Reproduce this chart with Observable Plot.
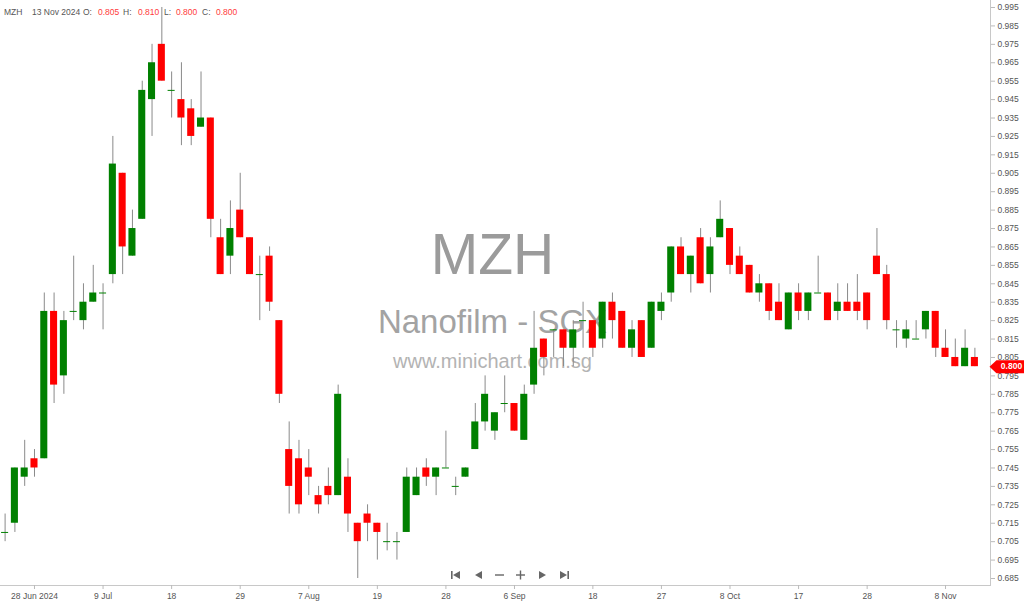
<!DOCTYPE html>
<html>
<head>
<meta charset="utf-8">
<script src="https://cdn.jsdelivr.net/npm/d3@7"></script>
<script src="https://cdn.jsdelivr.net/npm/@observablehq/plot@0.6"></script>
<style>
  html, body { margin: 0; padding: 0; background: #fff; }
  #wrap { position: relative; width: 1024px; height: 605px; font-family: "Liberation Sans", Arial, sans-serif; }
  #header { position: absolute; left: 0; top: 7px; font-size: 8.5px; color: #555; white-space: nowrap; }
  #header span { position: absolute; top: 0; }
  #header .v { color: #ff3b3b; }
  #nav { position: absolute; top: 570px; left: 0; }
  #nav svg { position: absolute; top: 0; }
</style>
</head>
<body>
<div id="wrap">
  <div id="chart"></div>
  <div id="header"></div>
  <div id="nav"></div>
</div>
<script>
// ---- Data (daily OHLC, MZH Nanofilm - SGX) ----
const symbol = "MZH";
const watermark = ["MZH", "Nanofilm - SGX", "www.minichart.com.sg"];
const dates = [
  "2024-06-25","2024-06-26","2024-06-27","2024-06-28",
  "2024-07-01","2024-07-02","2024-07-03","2024-07-04","2024-07-05",
  "2024-07-08","2024-07-09","2024-07-10","2024-07-11","2024-07-12",
  "2024-07-15","2024-07-16","2024-07-17","2024-07-18","2024-07-19",
  "2024-07-22","2024-07-23","2024-07-24","2024-07-25","2024-07-26",
  "2024-07-29","2024-07-30","2024-07-31","2024-08-01","2024-08-02",
  "2024-08-05","2024-08-06","2024-08-07","2024-08-08",
  "2024-08-12","2024-08-13","2024-08-14","2024-08-15","2024-08-16",
  "2024-08-19","2024-08-20","2024-08-21","2024-08-22","2024-08-23",
  "2024-08-26","2024-08-27","2024-08-28","2024-08-29","2024-08-30",
  "2024-09-02","2024-09-03","2024-09-04","2024-09-05","2024-09-06",
  "2024-09-09","2024-09-10","2024-09-11","2024-09-12","2024-09-13",
  "2024-09-16","2024-09-17","2024-09-18","2024-09-19","2024-09-20",
  "2024-09-23","2024-09-24","2024-09-25","2024-09-26","2024-09-27",
  "2024-09-30","2024-10-01","2024-10-02","2024-10-03","2024-10-04",
  "2024-10-07","2024-10-08","2024-10-09","2024-10-10","2024-10-11",
  "2024-10-14","2024-10-15","2024-10-16","2024-10-17","2024-10-18",
  "2024-10-21","2024-10-22","2024-10-23","2024-10-24","2024-10-25",
  "2024-10-28","2024-10-29","2024-10-30",
  "2024-11-01","2024-11-04","2024-11-05","2024-11-06","2024-11-07","2024-11-08",
  "2024-11-11","2024-11-12","2024-11-13"
];
const open = [
  0.710,0.715,0.740,0.750,
  0.750,0.830,0.795,0.830,0.825,
  0.835,0.840,0.850,0.905,0.860,
  0.880,0.945,0.975,0.950,0.945,
  0.940,0.930,0.935,0.870,0.860,
  0.885,0.870,0.850,0.860,0.825,
  0.755,0.750,0.745,0.730,
  0.735,0.730,0.740,0.715,0.720,
  0.715,0.705,0.705,0.710,0.730,
  0.745,0.740,0.745,0.735,0.740,
  0.755,0.770,0.765,0.780,0.780,
  0.760,0.790,0.815,0.820,0.820,
  0.810,0.825,0.825,0.815,0.835,
  0.830,0.810,0.825,0.810,0.830,
  0.840,0.865,0.850,0.870,0.850,
  0.870,0.875,0.860,0.855,0.840,
  0.845,0.835,0.820,0.840,0.830,
  0.840,0.840,0.830,0.835,0.835,
  0.840,0.860,0.850,
  0.820,0.815,0.815,0.820,0.830,0.810,
  0.805,0.800,0.805
];
const high = [
  0.720,0.745,0.760,0.755,
  0.840,0.840,0.830,0.860,0.845,
  0.855,0.845,0.925,0.905,0.885,
  0.955,0.975,0.995,0.960,0.965,
  0.945,0.960,0.935,0.880,0.890,
  0.905,0.870,0.860,0.865,0.825,
  0.770,0.760,0.755,0.735,
  0.745,0.790,0.750,0.715,0.725,
  0.715,0.715,0.710,0.745,0.745,
  0.750,0.745,0.765,0.740,0.745,
  0.780,0.795,0.775,0.795,0.780,
  0.790,0.830,0.815,0.820,0.820,
  0.825,0.835,0.825,0.835,0.840,
  0.830,0.825,0.825,0.835,0.840,
  0.865,0.870,0.860,0.875,0.870,
  0.890,0.875,0.865,0.855,0.850,
  0.845,0.845,0.840,0.845,0.840,
  0.860,0.840,0.845,0.845,0.850,
  0.840,0.875,0.855,
  0.825,0.825,0.825,0.830,0.830,0.820,
  0.815,0.820,0.810
];
const low = [
  0.705,0.710,0.735,0.740,
  0.750,0.780,0.785,0.825,0.820,
  0.835,0.820,0.845,0.850,0.860,
  0.880,0.925,0.955,0.935,0.920,
  0.920,0.930,0.870,0.850,0.850,
  0.870,0.850,0.825,0.830,0.780,
  0.720,0.720,0.730,0.720,
  0.725,0.730,0.710,0.685,0.705,
  0.695,0.700,0.695,0.710,0.730,
  0.735,0.730,0.745,0.730,0.740,
  0.755,0.765,0.760,0.775,0.765,
  0.760,0.785,0.795,0.805,0.800,
  0.800,0.810,0.805,0.810,0.815,
  0.810,0.805,0.805,0.810,0.825,
  0.835,0.850,0.840,0.845,0.840,
  0.870,0.850,0.850,0.840,0.835,
  0.825,0.825,0.820,0.825,0.825,
  0.840,0.825,0.825,0.830,0.825,
  0.820,0.850,0.820,
  0.810,0.810,0.815,0.815,0.805,0.805,
  0.800,0.800,0.800
];
const close = [
  0.710,0.745,0.745,0.745,
  0.830,0.790,0.825,0.830,0.835,
  0.840,0.840,0.910,0.865,0.875,
  0.950,0.965,0.955,0.950,0.935,
  0.925,0.935,0.880,0.850,0.875,
  0.870,0.850,0.850,0.835,0.785,
  0.735,0.725,0.740,0.725,
  0.730,0.785,0.720,0.705,0.715,
  0.710,0.705,0.705,0.740,0.740,
  0.740,0.745,0.745,0.735,0.745,
  0.770,0.785,0.775,0.780,0.765,
  0.785,0.810,0.805,0.820,0.810,
  0.820,0.825,0.810,0.835,0.825,
  0.810,0.820,0.805,0.835,0.835,
  0.865,0.850,0.860,0.845,0.865,
  0.880,0.855,0.850,0.840,0.845,
  0.830,0.825,0.840,0.830,0.840,
  0.840,0.825,0.835,0.830,0.830,
  0.825,0.850,0.825,
  0.820,0.820,0.815,0.830,0.810,0.805,
  0.800,0.810,0.800
];
// Axis ticks
const xTickDates = ["2024-06-28","2024-07-09","2024-07-18","2024-07-29","2024-08-07","2024-08-19","2024-08-28",
  "2024-09-06","2024-09-18","2024-09-27","2024-10-08","2024-10-17","2024-10-28","2024-11-08"];
const xTickLabels = ["28 Jun 2024","9 Jul","18","29","7 Aug","19","28","6 Sep","18","27","8 Oct","17","28","8 Nov"];
const yTicks = [0.685,0.695,0.705,0.715,0.725,0.735,0.745,0.755,0.765,0.775,0.785,0.795,0.805,0.815,0.825,
  0.835,0.845,0.855,0.865,0.875,0.885,0.895,0.905,0.915,0.925,0.935,0.945,0.955,0.965,0.975,0.985,0.995];

const UP = "#008000", DOWN = "#ff0000", WICK = "#8a8a8a";

const candles = dates.map((d, i) => ({date: d, open: open[i], high: high[i], low: low[i], close: close[i]}));
const bodies = candles.filter(d => d.open !== d.close);
const dojis = candles.filter(d => d.open === d.close);
const last = candles[candles.length - 1];

const tagSymbol = {
  draw(ctx) {
    ctx.moveTo(-1, 0);
    ctx.lineTo(6, -6.5);
    ctx.lineTo(35, -6.5);
    ctx.lineTo(35, 6.5);
    ctx.lineTo(6, 6.5);
    ctx.closePath();
  }
};

const n = dates.length;
const step = 9.796;
const r0 = 4.6 - step * 0.5;
const FONT = "'Liberation Sans', Arial, sans-serif";

const chart = Plot.plot({
  width: 1024,
  height: 605,
  marginLeft: 0,
  marginRight: 34,
  marginTop: 0,
  marginBottom: 20,
  style: {background: "#fff", fontFamily: FONT, fontSize: "8.5px", overflow: "visible"},
  x: {type: "band", domain: dates, range: [r0, r0 + step * n], paddingInner: 0.28, paddingOuter: 0.14, axis: null, label: null},
  y: {domain: [0.6812, 0.9988], axis: null, label: null},
  marks: [
    // watermark (behind candles)
    Plot.text([watermark[0]], {frameAnchor: "middle", dx: -3, dy: -37, text: d => d, fontSize: 57, fill: "#9b9b9b", fontFamily: FONT}),
    Plot.text([watermark[1]], {frameAnchor: "middle", dx: -3, dy: 29, text: d => d, fontSize: 33, fill: "#a3a3a3", fontFamily: FONT}),
    Plot.text([watermark[2]], {frameAnchor: "middle", dx: -3, dy: 69, text: d => d, fontSize: 20, fill: "#b3b3b3", fontFamily: FONT}),
    // frame lines
    Plot.frame({anchor: "right", stroke: "#c8c8c8"}),
    Plot.frame({anchor: "bottom", stroke: "#c8c8c8"}),
    // axes
    Plot.axisY({anchor: "right", label: null, ticks: yTicks, tickFormat: d3.format(".3f"), tickSize: 4, tickPadding: 3, stroke: "#bbb", fill: "#555", fontSize: 8.5}),
    Plot.axisX({anchor: "bottom", label: null, ticks: xTickDates, tickFormat: d => xTickLabels[xTickDates.indexOf(d)], tickSize: 4, tickPadding: 3, stroke: "#bbb", fill: "#555", fontSize: 8.5}),
    // wicks
    Plot.ruleX(candles, {x: "date", y1: "low", y2: "high", stroke: WICK, strokeWidth: 1}),
    // bodies
    Plot.barY(bodies, {x: "date", y1: "open", y2: "close", fill: d => d.close > d.open ? UP : DOWN}),
    // doji dashes
    Plot.tickY(dojis, {x: "date", y: "close", stroke: UP, strokeWidth: 1}),
    // last price tag
    Plot.dot([last], {y: "close", frameAnchor: "right", symbol: tagSymbol, fill: DOWN, stroke: null, r: 5}),
    Plot.text([last], {y: "close", frameAnchor: "right", textAnchor: "middle", dx: 21, text: d => d.close.toFixed(3), fill: "#fff", fontWeight: "bold", fontSize: 8.5})
  ]
});
document.getElementById("chart").appendChild(chart);

// header (OHLC of last candle)
const fmtDate = d3.utcFormat("%-d %b %Y");
const hdr = [
  ["", symbol, 4],
  ["", fmtDate(new Date(last.date)), 32],
  ["", "O:", 83], ["v", last.open.toFixed(3), 98],
  ["", "H:", 123], ["v", last.high.toFixed(3), 138],
  ["", "L:", 164], ["v", last.low.toFixed(3), 176],
  ["", "C:", 202], ["v", last.close.toFixed(3), 216]
];
const header = document.getElementById("header");
hdr.forEach(([cls, txt, left]) => {
  const s = document.createElement("span");
  if (cls) s.className = cls;
  s.textContent = txt;
  s.style.left = left + "px";
  header.appendChild(s);
});

// navigation icons
const navIcons = [
  [451, '<rect x="0" y="1" width="1.6" height="8" /><path d="M9 1 L2 5 L9 9 Z"/>'],
  [474, '<path d="M8 1 L1 5 L8 9 Z"/>'],
  [495, '<rect x="0" y="4.3" width="9" height="1.4"/>'],
  [516, '<rect x="0" y="4.3" width="9" height="1.4"/><rect x="3.8" y="0.5" width="1.4" height="9"/>'],
  [538, '<path d="M1 1 L8 5 L1 9 Z"/>'],
  [560, '<path d="M0 1 L7 5 L0 9 Z"/><rect x="7.4" y="1" width="1.6" height="8" />']
];
const nav = document.getElementById("nav");
navIcons.forEach(([left, inner]) => {
  nav.insertAdjacentHTML("beforeend", `<svg width="10" height="10" style="left:${left}px" fill="#666">${inner}</svg>`);
});
</script>
</body>
</html>
